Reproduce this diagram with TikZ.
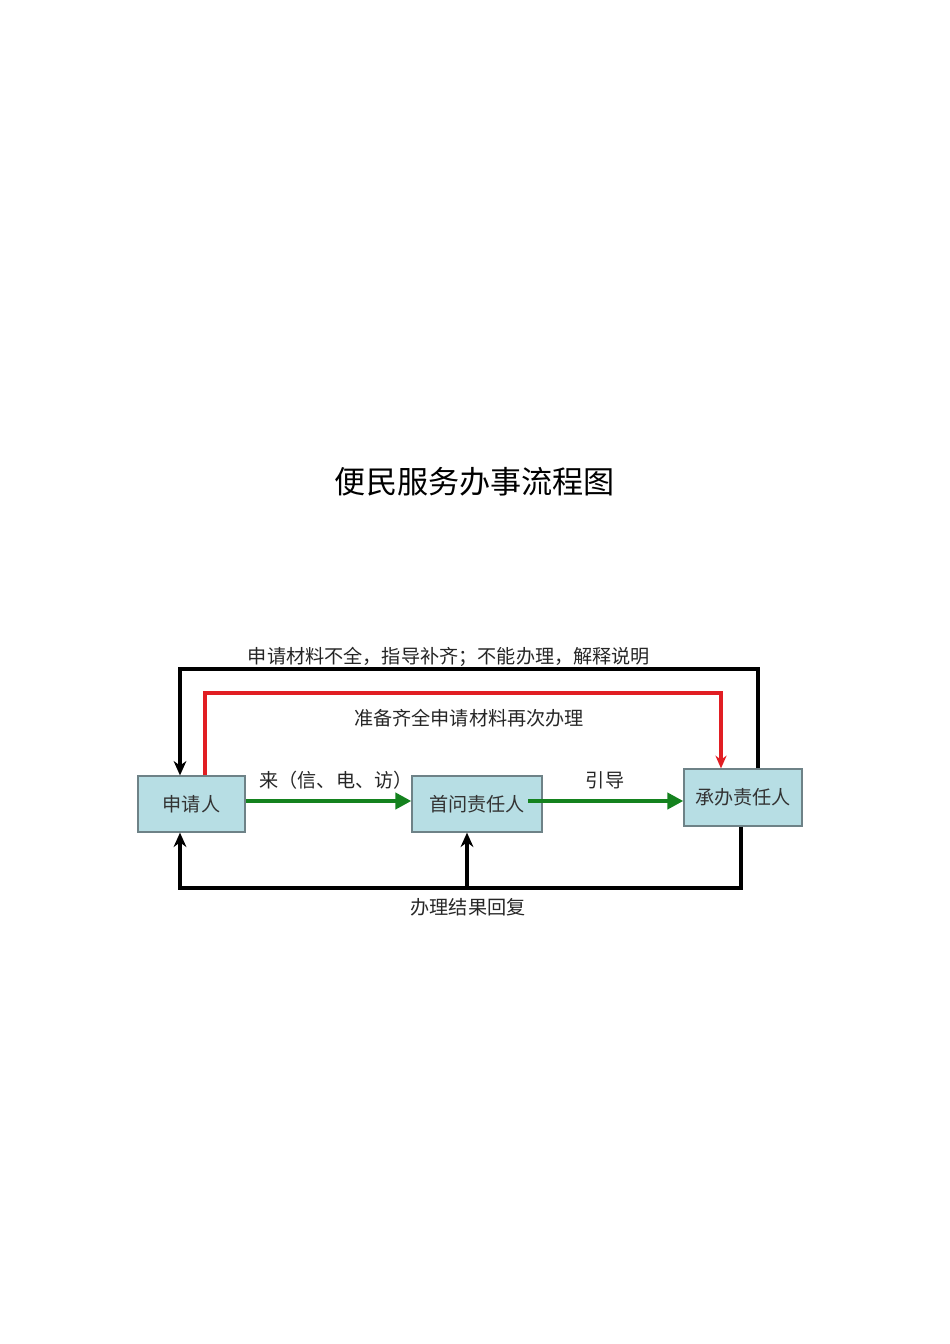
\documentclass[tikz,border=0pt]{standalone}
\usepackage{fontspec}
\setmainfont{Noto Sans CJK SC}
\usetikzlibrary{arrows.meta}
\definecolor{boxfill}{RGB}{183,222,228}
\definecolor{boxline}{RGB}{110,130,135}
\definecolor{flowgreen}{RGB}{20,130,30}
\definecolor{flowred}{RGB}{225,30,35}
\tikzset{
  px/.style={x=0.6266pt,y=-0.6266pt},
  procbox/.style={draw=boxline,line width=0.8pt,fill=boxfill,inner sep=0pt,font=\fontsize{12}{14}\selectfont,text=black!80},
  blackflow/.style={draw=black,line width=2.4pt,-{Stealth[length=9pt,width=8pt]}},
  redflow/.style={draw=flowred,line width=2pt,-{Stealth[length=8pt,width=7pt]}},
  greenflow/.style={draw=flowgreen,line width=3pt,-{Triangle[length=10pt,width=10pt]}},
  lbl/.style={font=\fontsize{12}{14}\selectfont,text=black!85,inner sep=0pt},
}
\begin{document}
\begin{tikzpicture}[px]
\useasboundingbox (0,0) rectangle (950,1344);
\node[font=\fontsize{19.5}{22}\selectfont,inner sep=0pt] (title) at (475,482) {便民服务办事流程图};
\node[procbox,minimum width=107*0.6266pt,minimum height=56*0.6266pt] (A) at (191.5,804) {申请人};
\node[procbox,minimum width=130*0.6266pt,minimum height=56*0.6266pt] (B) at (477,804) {首问责任人};
\node[procbox,minimum width=118*0.6266pt,minimum height=57*0.6266pt] (C) at (743,797.5) {承办责任人};
% green flows
\draw[greenflow] (A.east |- 0,801) -- (B.west |- 0,801);
\draw[greenflow] (528,801) coordinate (gs) -- (C.west |- 0,801);
% top black loop
\coordinate (t1) at (758,669);
\coordinate (t2) at (180,669);
\draw[blackflow] (C.north -| 758,0) -- (t1) -- (t2) -- (A.north -| 180,0);
% red loop
\coordinate (r1) at (205,693);
\coordinate (r2) at (721,693);
\draw[redflow] (A.north -| 205,0) -- (r1) -- (r2) -- (C.north -| 721,0);
% bottom loop
\coordinate (b1) at (741,888);
\coordinate (b2) at (180,888);
\coordinate (b3) at (467,888);
\draw[blackflow] (C.south -| 741,0) -- (b1) -- (b2) -- (A.south -| 180,0);
\draw[blackflow] (b3) -- (B.south -| 467,0);
% labels
\node[lbl] (l1) at (449,657) {申请材料不全，指导补齐；不能办理，解释说明};
\node[lbl] (l2) at (469,718) {准备齐全申请材料再次办理};
\node[lbl] (l3) at (336,780) {来（信、电、访）};
\node[lbl] (l4) at (605,780) {引导};
\node[lbl] (l5) at (468,907) {办理结果回复};
\end{tikzpicture}
\end{document}
